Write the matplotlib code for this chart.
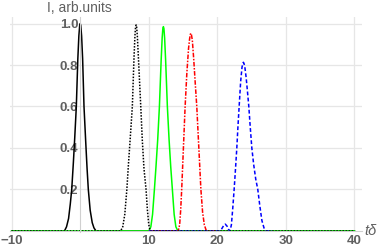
import numpy as np
import matplotlib.pyplot as plt

plt.rcParams['font.family'] = ['Liberation Sans', 'DejaVu Sans']

# pulse at t=0 (black solid)
x_solid = [-10, -2.3, -2.0, -1.7, -1.45, -1.24, -1.0, -0.8, -0.57, -0.35, -0.2, -0.08, 0.0,
           0.08, 0.2, 0.35, 0.55, 0.8, 1.0, 1.18, 1.45, 1.75, 2.0, 2.3, 40]
y_solid = [0, 0, 0.02, 0.06, 0.13, 0.2, 0.33, 0.45, 0.6, 0.83, 0.94, 0.99, 1.0,
           0.99, 0.94, 0.83, 0.6, 0.43, 0.3, 0.2, 0.1, 0.04, 0.015, 0, 0]

# green solid
x_green = [-10, 10.0, 10.3, 10.55, 10.82, 11.05, 11.3, 11.55, 11.8, 11.95, 12.05, 12.13,
           12.21, 12.31, 12.46, 12.71, 12.96, 13.2, 13.44, 13.7, 13.95, 14.25, 40]
y_green = [0, 0, 0.02, 0.08, 0.2, 0.31, 0.44, 0.6, 0.82, 0.93, 0.975, 0.985,
           0.975, 0.93, 0.82, 0.6, 0.44, 0.31, 0.2, 0.08, 0.02, 0, 0]

# red dot-dashed
x_red = [10, 14.3, 14.5, 14.65, 14.8, 15.05, 15.3, 15.55, 15.8, 15.95, 16.05, 16.13, 16.22,
         16.35, 16.55, 16.8, 17.0, 17.3, 17.6, 17.85, 18.1, 18.4, 20]
y_red = [0, 0, 0.03, 0.1, 0.2, 0.4, 0.6, 0.76, 0.88, 0.925, 0.947, 0.953, 0.946,
         0.92, 0.83, 0.7, 0.6, 0.4, 0.2, 0.09, 0.03, 0, 0]

# blue dashed (with small precursor)
x_blue = [10, 20.3, 20.6, 20.9, 21.15, 21.4, 21.65, 21.85, 22.05, 22.25, 22.45, 22.65,
          22.84, 23.0, 23.18, 23.4, 23.6, 23.72, 23.8, 23.88, 24.0, 24.2, 24.4, 24.59,
          24.8, 25.03, 25.3, 25.6, 25.9, 26.2, 26.5, 26.8, 27.1, 28]
y_blue = [0, 0, 0.008, 0.025, 0.033, 0.024, 0.006, 0, 0.03, 0.11, 0.2, 0.3,
          0.4, 0.5, 0.6, 0.72, 0.79, 0.808, 0.813, 0.808, 0.793, 0.74, 0.67, 0.6,
          0.5, 0.4, 0.32, 0.25, 0.2, 0.12, 0.05, 0.015, 0, 0]

# black dotted
x_dot = [-10, 5.9, 6.2, 6.5, 6.8, 7.05, 7.3, 7.6, 7.85, 7.98, 8.07, 8.15, 8.23, 8.33,
         8.45, 8.83, 9.05, 9.3, 9.6, 9.8, 10.0, 10.2, 40]
y_dot = [0, 0, 0.02, 0.08, 0.2, 0.33, 0.45, 0.6, 0.84, 0.94, 0.983, 0.993, 0.983, 0.94,
         0.86, 0.6, 0.44, 0.3, 0.2, 0.1, 0.03, 0, 0]

x_ticks = [-10, 10, 20, 30, 40]
y_ticks = [0.2, 0.4, 0.6, 0.8, 1.0]

grey = '#606060'
fig = plt.figure(figsize=(3.82, 2.48), dpi=100)
ax = fig.add_axes([10.3 / 382, 16 / 248, 351.7 / 382, 214.7 / 248])

ax.plot(x_solid, y_solid, color='black', lw=1.1)
ax.plot(x_green, y_green, color='#00ff00', lw=1.1)
ax.plot(x_red, y_red, color='red', lw=1.1, dashes=(3, 1, 1, 1))
ax.plot(x_blue, y_blue, color='blue', lw=1.1, dashes=(2.5, 1.5))
ax.plot(x_dot, y_dot, color='black', lw=1.1, dashes=(1, 1))

ax.set_xlim(-10.2, 41.1)
ax.set_ylim(-0.005, 1.03)
ax.set_xticks(x_ticks)
ax.set_yticks(y_ticks)
ax.set_xticklabels(['\u221210', '10', '20', '30', '40'])
ax.set_yticklabels(['0.2', '0.4', '0.6', '0.8', '1.0'])
ax.grid(color='#e6e6e6', lw=0.9)
ax.set_axisbelow(True)

for s in ['top', 'right']:
    ax.spines[s].set_visible(False)
ax.spines['left'].set_position(('data', 0))
ax.spines['bottom'].set_position(('data', 0))
ax.spines['left'].set_color('#d0d0d0')
ax.spines['bottom'].set_color('#d0d0d0')
ax.tick_params(length=0, labelsize=9.5, labelcolor=grey)
ax.tick_params(axis='y', pad=1.5)
ax.tick_params(axis='x', pad=3)
for lab in ax.get_xticklabels() + ax.get_yticklabels():
    lab.set_fontweight('bold')

fig.text(47 / 382, 1 - 8.5 / 248, 'I, arb.units', ha='left', va='center',
         fontsize=10, color=grey)
fig.text(364 / 382, (248 - 231) / 248, 't\u03b4', ha='left', va='center',
         fontsize=10.5, color=grey, style='italic')

plt.savefig('out.png', dpi=100)
